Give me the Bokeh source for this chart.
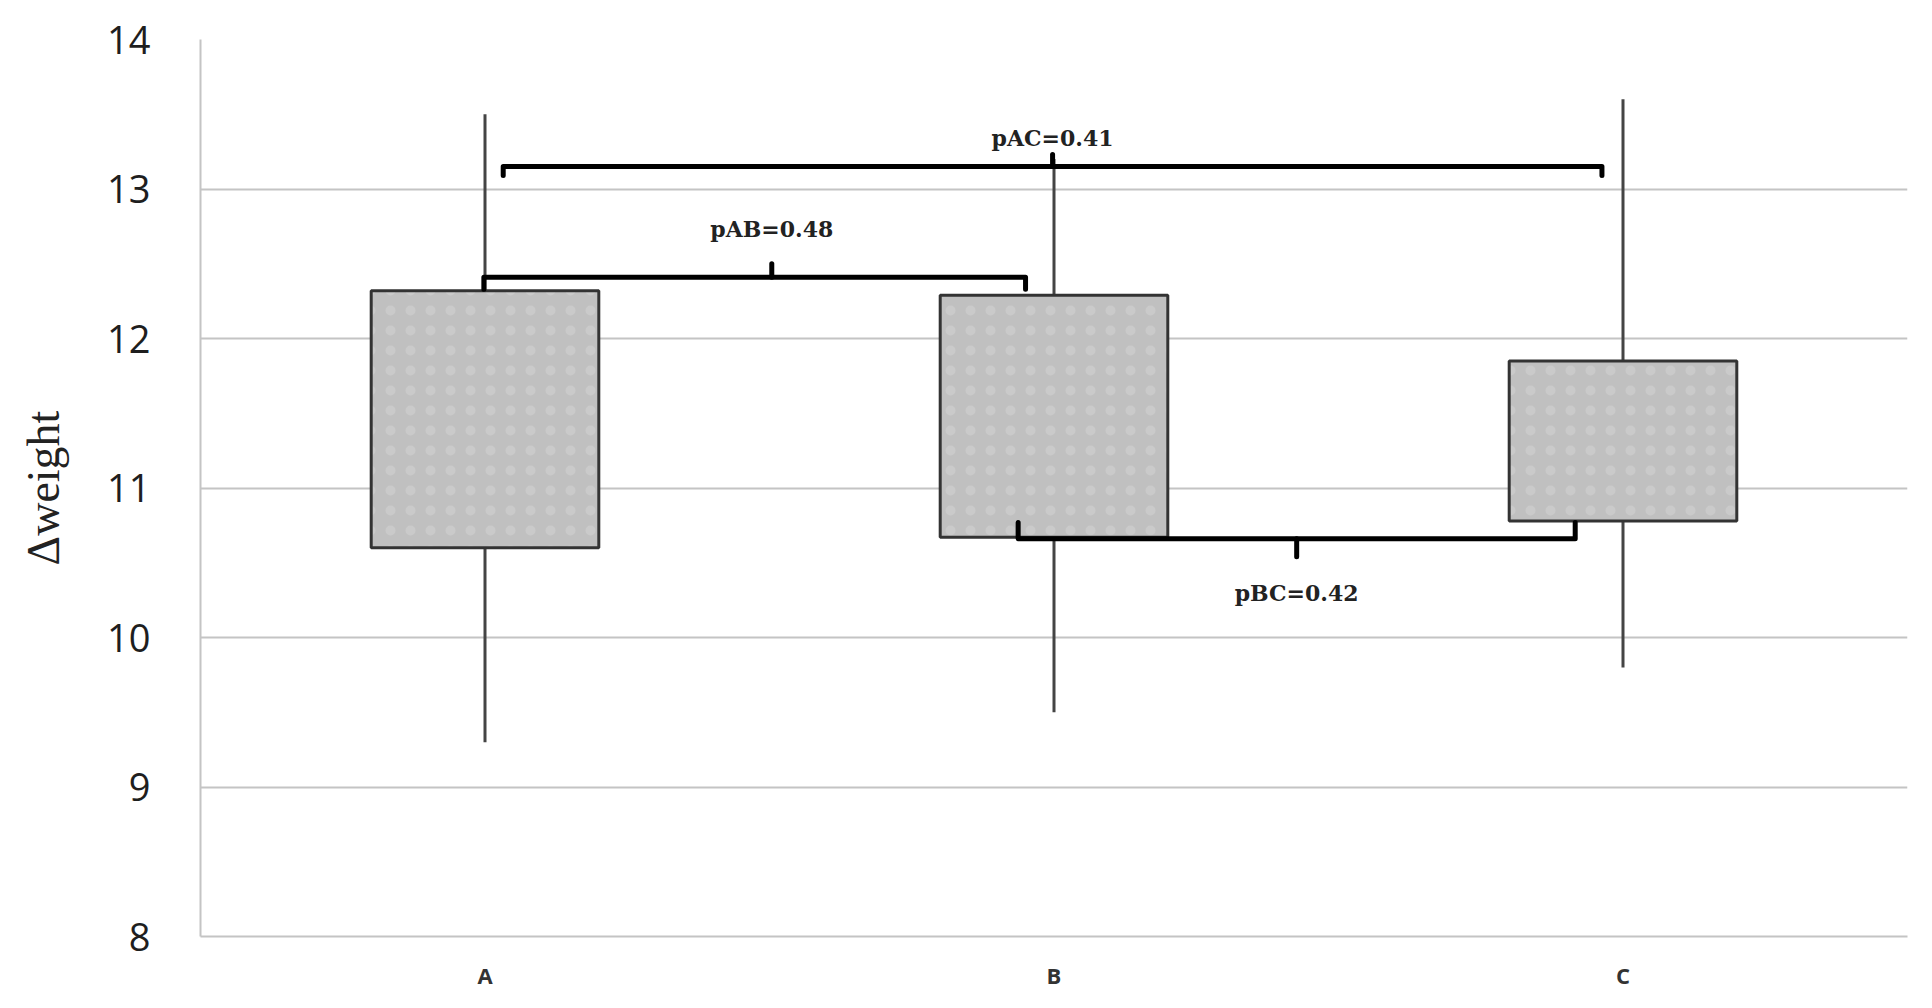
from bokeh.plotting import figure
from bokeh.models import Range1d, FixedTicker
from bokeh.core.properties import value
from bokeh.embed import file_html
from bokeh.resources import INLINE

# ---- data ----
categories = ["A", "B", "C"]
q1 = [10.60, 10.67, 10.78]
q3 = [12.32, 12.29, 11.85]
whisker_low = [9.30, 9.50, 9.80]
whisker_high = [13.50, 13.20, 13.60]

# comparisons: pair, p value, bracket level, tip level, mid-tick level, label level
pair_left = ["A", "A", "B"]
pair_right = ["B", "C", "C"]
p_values = [0.48, 0.41, 0.42]
p_names = ["pAB", "pAC", "pBC"]
bracket_y = [12.41, 13.15, 10.66]
bracket_tip_y = [12.33, 13.09, 10.77]
bracket_mid_y = [12.50, 13.23, 10.54]
label_y = [12.73, 13.34, 10.30]

y_ticks = [8, 9, 10, 11, 12, 13, 14]

# ---- styling / positions ----
centers = {c: i + 0.5 for i, c in enumerate(categories)}
box_half = 0.20
left_off = [-0.002, 0.032, -0.063]
right_off = [-0.05, -0.037, -0.084]
mid_off = [0.03, 0.0, 0.0]

p = figure(width=1916, height=992, output_backend="svg", toolbar_location=None,
           x_range=Range1d(0, 3), y_range=Range1d(8, 14),
           min_border_left=200, min_border_right=9, min_border_top=39,
           min_border_bottom=50)
p.outline_line_color = None
p.background_fill_color = "white"

# grid
p.xgrid.visible = False
p.ygrid.ticker = FixedTicker(ticks=y_ticks)
p.ygrid.grid_line_color = "#c4c4c4"
p.ygrid.grid_line_width = 2

# axes
p.yaxis.ticker = FixedTicker(ticks=y_ticks)
p.yaxis.axis_line_color = "#c4c4c4"
p.yaxis.axis_line_width = 2
p.yaxis.major_tick_line_color = None
p.yaxis.minor_tick_line_color = None
p.yaxis.major_label_standoff = 44
p.yaxis.major_label_text_font = "Open Sans"
p.yaxis.major_label_text_font_size = "38px"
p.yaxis.major_label_text_color = "#1e1e1e"
p.yaxis.axis_label = "Δweight"
p.yaxis.axis_label_text_font = "Liberation Serif"
p.yaxis.axis_label_text_font_style = "normal"
p.yaxis.axis_label_text_font_size = "46px"
p.yaxis.axis_label_text_color = "#222222"
p.yaxis.axis_label_standoff = 35

p.xaxis.ticker = FixedTicker(ticks=[centers[c] for c in categories])
p.xaxis.major_label_overrides = {centers[c]: c for c in categories}
p.xaxis.axis_line_color = "#c4c4c4"
p.xaxis.axis_line_width = 2
p.xaxis.major_tick_line_color = None
p.xaxis.minor_tick_line_color = None
p.xaxis.major_label_standoff = 17
p.xaxis.major_label_text_font = "Open Sans"
p.xaxis.major_label_text_font_size = "22px"
p.xaxis.major_label_text_font_style = "bold"
p.xaxis.major_label_text_color = "#333333"

xs = [centers[c] for c in categories]

# whiskers
p.segment(x0=xs, y0=whisker_low, x1=xs, y1=whisker_high,
          line_color="#444444", line_width=3)

# boxes
p.quad(left=[x - box_half for x in xs], right=[x + box_half for x in xs],
       bottom=q1, top=q3, fill_color="#c0c0c0",
       line_color="#333333", line_width=3,
       hatch_pattern="dot", hatch_color="#e0e0e0", hatch_scale=20,
       hatch_weight=0.8, hatch_alpha=0.3)

# brackets
bx, by = [], []
tx, ty, tt = [], [], []
for i in range(len(p_values)):
    xl = centers[pair_left[i]] + left_off[i]
    xr = centers[pair_right[i]] + right_off[i]
    xm = (xl + xr) / 2 + mid_off[i]
    bx.append([xl, xl, xr, xr])
    by.append([bracket_tip_y[i], bracket_y[i], bracket_y[i], bracket_tip_y[i]])
    bx.append([xm, xm])
    by.append([bracket_y[i], bracket_mid_y[i]])
    tx.append(xm)
    ty.append(label_y[i])
    tt.append(f"{p_names[i]}={p_values[i]:.2f}")

p.multi_line(xs=bx, ys=by, line_color="black", line_width=5,
             line_join="round", line_cap="round")

p.text(x=tx, y=ty, text=tt, text_font=value("DejaVu Serif"),
       text_font_style="bold", text_font_size="22px", text_color="#222222",
       text_align="center", text_baseline="middle")

open("out.html", "w").write(file_html(p, INLINE))
